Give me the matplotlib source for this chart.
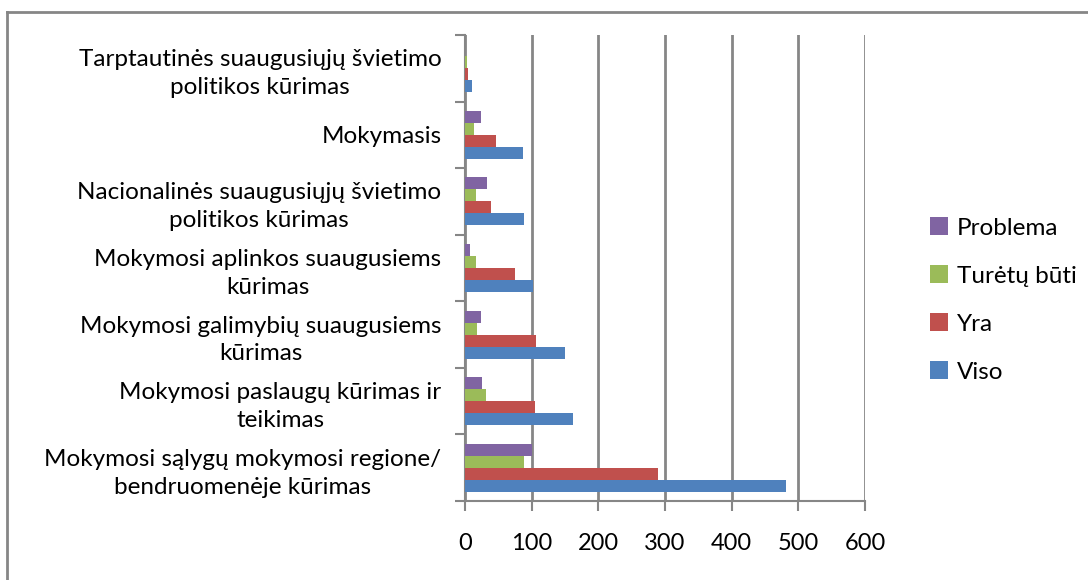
import matplotlib
matplotlib.use("Agg")
import matplotlib.pyplot as plt
import numpy as np
from matplotlib.lines import Line2D

categories = [
    "Mokymosi sąlygų mokymosi regione/\nbendruomenėje kūrimas",
    "Mokymosi paslaugų kūrimas ir\nteikimas",
    "Mokymosi galimybių suaugusiems\nkūrimas",
    "Mokymosi aplinkos suaugusiems\nkūrimas",
    "Nacionalinės suaugusiųjų švietimo\npolitikos kūrimas",
    "Mokymasis",
    "Tarptautinės suaugusiųjų švietimo\npolitikos kūrimas",
]
viso = [482, 162, 150, 102, 89, 87, 11]
yra = [290, 105, 107, 75, 39, 47, 5]
turetu_buti = [89, 32, 18, 17, 17, 14, 3]
problema = [100, 25, 24, 8, 33, 24, 0]
series_names = ["Viso", "Yra", "Turėtų būti", "Problema"]
series_values = [viso, yra, turetu_buti, problema]
colors = ["#4F81BD", "#C0504D", "#9BBB59", "#8064A2"]
xticks = [0, 100, 200, 300, 400, 500, 600]

plt.rcParams['font.family'] = ['Lato', 'DejaVu Sans']

fig = plt.figure(figsize=(10.88, 5.8), dpi=100)
ax = fig.add_axes([465/1088, 1 - 501/580, 400/1088, 466/580])

n = len(categories)
y = np.arange(n)
bw = 0.18
offsets = [-1.5 * bw, -0.5 * bw, 0.5 * bw, 1.5 * bw]
for name, vals, c, off in zip(series_names, series_values, colors, offsets):
    ax.barh(y + off, vals, height=bw, color=c, label=name, zorder=3)

ax.set_xlim(0, 600)
ax.set_ylim(-0.5, n - 0.5)
ax.set_xticks(xticks)
ax.set_xticklabels([str(t) for t in xticks], fontsize=17)
ax.set_yticks(np.arange(-0.5, n, 1.0))
ax.set_yticklabels([])
ax.set_yticks(y, minor=True)
ax.set_yticklabels(categories, minor=True, fontsize=17.5, multialignment='center',
                   linespacing=1.4)
ax.tick_params(axis='y', which='minor', length=0, pad=17)
ax.tick_params(axis='y', which='major', length=7, width=1.5, color='#868686', direction='out')
ax.tick_params(axis='x', length=7, width=1.5, color='#868686', direction='out', pad=16)
ax.xaxis.grid(True, color='#868686', linewidth=2, zorder=0)
for s in ['top', 'right']:
    ax.spines[s].set_visible(False)
for s in ['left', 'bottom']:
    ax.spines[s].set_color('#868686')
    ax.spines[s].set_linewidth(1.5)

handles, labels = ax.get_legend_handles_labels()
leg = fig.legend(handles[::-1], labels[::-1], loc='center left',
                 bbox_to_anchor=(908/1088, 1 - 300/580), frameon=False,
                 fontsize=17.5, handlelength=0.75, handleheight=0.75,
                 labelspacing=1.1, handletextpad=0.35)

fig.add_artist(Line2D([7/1088, 7/1088], [0, 1 - 12/580], transform=fig.transFigure,
                      color='#868686', linewidth=2))
fig.add_artist(Line2D([7/1088, 1], [1 - 12/580, 1 - 12/580], transform=fig.transFigure,
                      color='#868686', linewidth=2))

fig.savefig("out.png", dpi=100, facecolor='white')
